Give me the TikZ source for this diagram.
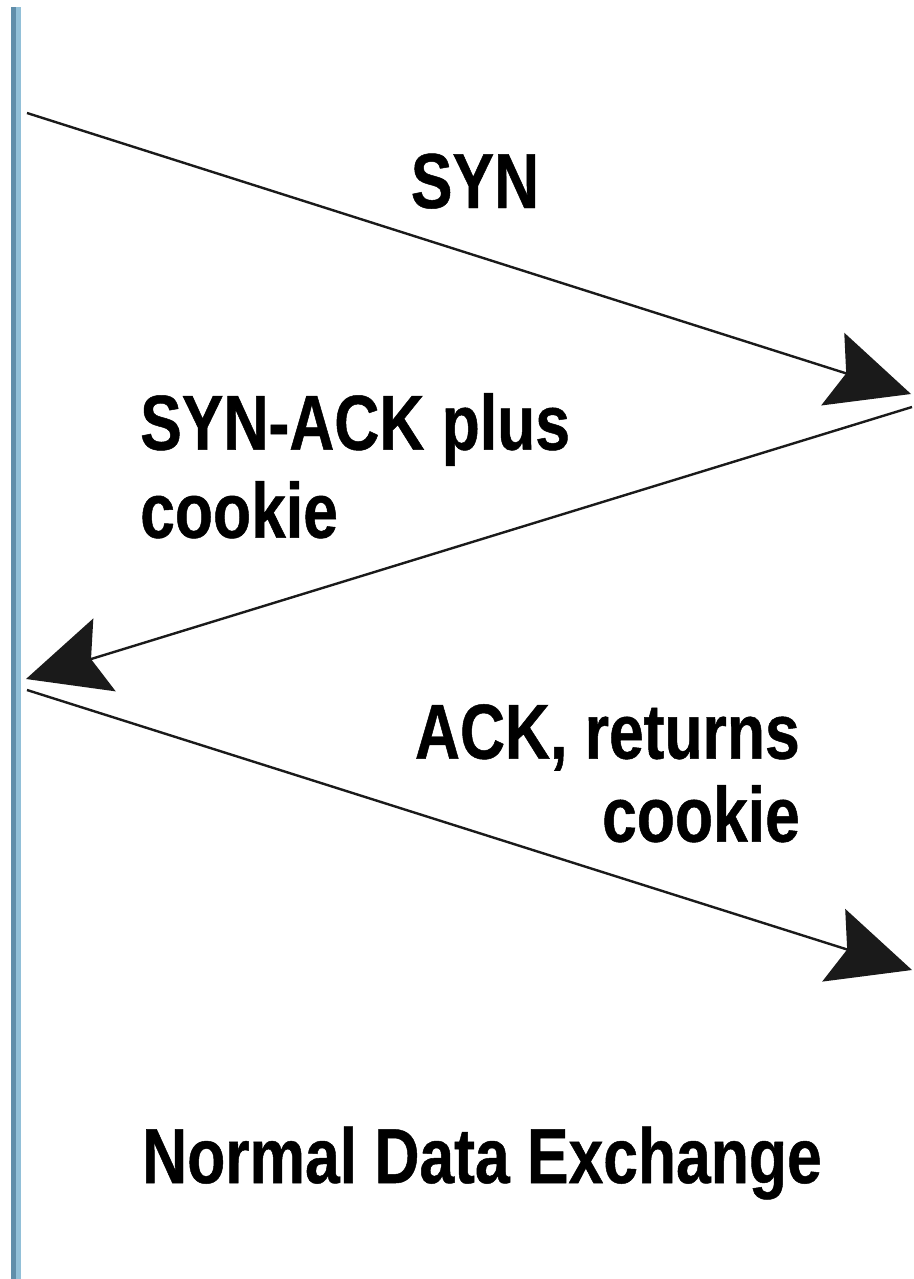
\documentclass[tikz,border=0pt]{standalone}
\usepackage{fontspec}
\newfontfamily\condfont[FakeStretch=0.8,FakeBold=0.6]{Liberation Sans}
\usetikzlibrary{arrows.meta}
\definecolor{lineDark}{RGB}{96,142,170}
\definecolor{lineLight}{RGB}{146,192,216}
\definecolor{ink}{RGB}{26,26,26}
\begin{document}
\begin{tikzpicture}[x=1pt,y=-1pt,
  msg/.style={line width=2.4pt, draw=ink, -{Stealth[length=82pt,width=76pt,inset=14pt,fill=ink]}},
  lbl/.style={font=\condfont\bfseries\fontsize{78}{88}\selectfont, inner sep=0pt, text=black}]
\useasboundingbox[fill=white] (0,0) rectangle (913,1279);
% time line
\fill[lineDark] (11,7) rectangle (16,1279);
\fill[lineLight] (16,7) rectangle (21,1279);
% end points
\coordinate (a1) at (27,113);
\coordinate (b1) at (911,394);
\coordinate (b2) at (912,407);
\coordinate (a2) at (26,679);
\coordinate (a3) at (27,690);
\coordinate (b3) at (912,970);
% messages
\draw[msg] (a1) -- (b1);
\draw[msg] (b2) -- (a2);
\draw[msg] (a3) -- (b3);
% labels
\node[lbl, anchor=base] (syn) at (475,208) {SYN};
\node[lbl, anchor=north west, align=left] (synack) at (140,393) {SYN-ACK plus\\cookie};
\node[lbl, anchor=north east, align=right, font=\condfont\bfseries\fontsize{78}{83}\selectfont] (ack) at (800,704) {ACK, returns\\cookie};
\node[lbl, anchor=base] (normal) at (482,1183) {Normal Data Exchange};
\end{tikzpicture}
\end{document}
